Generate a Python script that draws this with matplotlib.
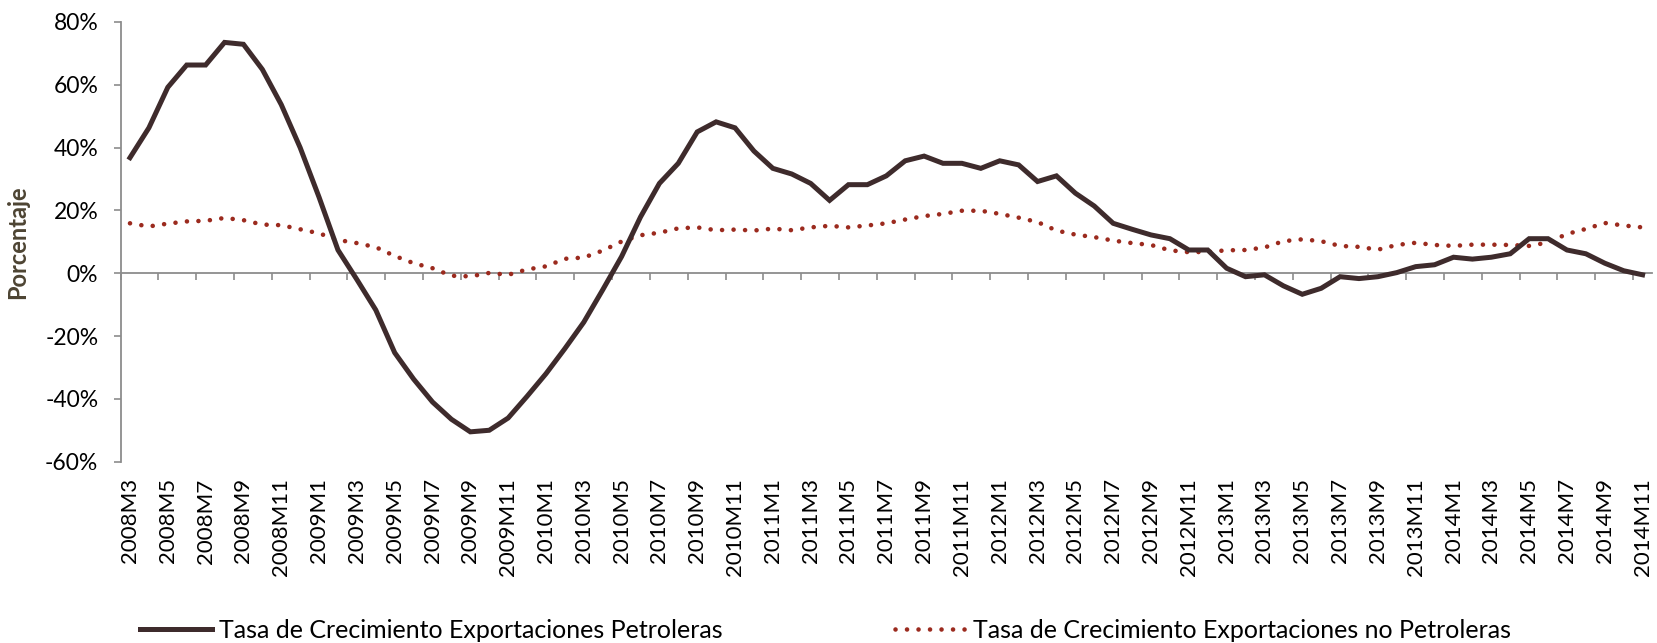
import matplotlib
matplotlib.use("Agg")
import matplotlib.pyplot as plt
from matplotlib.lines import Line2D

plt.rcParams['font.family'] = ['Lato', 'DejaVu Sans']

# periodos mensuales 2008M3 .. 2014M11
periodos = [f"{y}M{m}" for y in range(2008, 2015) for m in range(1, 13)
            if not (y == 2008 and m < 3) and not (y == 2014 and m > 11)]

petroleras = [36.8, 46.3, 59.2, 66.3, 66.3, 73.5, 72.9, 64.9, 53.7, 40.0, 24.2, 7.4,
              -2.0, -11.7, -25.3, -33.7, -41.0, -46.5, -50.5, -50.0, -46.1, -39.2, -32.0,
              -24.0, -15.6, -5.3, 5.3, 17.9, 28.6, 35.0, 45.0, 48.2, 46.3, 38.9, 33.4,
              31.6, 28.6, 23.2, 28.2, 28.2, 31.0, 35.8, 37.3, 35.0, 35.0, 33.4, 35.8,
              34.5, 29.2, 31.0, 25.5, 21.4,
              15.9, 14.0, 12.2, 11.0, 7.4, 7.4, 1.6, -1.1, -0.5, -4.0, -6.7, -4.8, -1.1,
              -1.7, -1.1, 0.2, 2.1, 2.7, 5.1, 4.5, 5.1, 6.2, 11.0, 11.0, 7.4, 6.2, 3.2,
              0.8, -0.5]

no_petroleras = [15.9, 14.9, 15.8, 16.5, 16.7, 17.6, 16.9, 15.5, 15.3, 14.0, 12.7, 10.6,
                 9.6, 8.3, 5.5, 3.2, 1.6, -0.8, -1.0, 0.1, -0.5, 1.2, 2.2,
                 4.6, 5.0, 7.2, 10.1, 12.1, 12.9, 14.3, 14.6, 13.7, 13.9, 13.6, 14.2,
                 13.7, 14.6, 15.1, 14.6, 15.2, 15.9, 17.1, 18.2, 18.9, 19.9, 19.9, 18.9,
                 17.7, 16.3, 13.6, 12.3, 11.5,
                 10.4, 9.6, 9.0, 7.3, 6.7, 6.8, 7.3, 7.4, 8.2, 10.2, 10.8, 10.2, 8.7,
                 8.4, 7.5, 9.0, 9.7, 9.0, 8.7, 9.1, 9.1, 9.0, 8.7, 9.8, 12.5, 14.1, 16.0,
                 15.2, 14.6]

nombres = ["Tasa de Crecimiento Exportaciones Petroleras",
           "Tasa de Crecimiento Exportaciones no Petroleras"]

c_pet = "#3e2b2c"
c_nopet = "#9b2a1e"
c_eje = "#8c8c8c"
dots = (0, (0.01, 2.5))

fig = plt.figure(figsize=(16.58, 6.43), dpi=100)
ax = fig.add_axes([0.0727, 0.282, 0.9237, 0.6838])

x = list(range(len(periodos)))
ax.plot(x, petroleras, color=c_pet, lw=3.6, solid_joinstyle='miter', zorder=3)
ax.plot(x, no_petroleras, color=c_nopet, lw=3.3, linestyle=dots,
        dash_capstyle='round', zorder=2)

ymin, ymax = -60, 80
ax.set_ylim(ymin, ymax)
ax.set_xlim(-0.5, len(periodos) - 0.5)
ax.set_yticks(range(-60, 81, 20))
ax.set_yticklabels([f"{v}%" for v in range(-60, 81, 20)], fontsize=16.5)
ax.tick_params(axis='y', length=5, width=1.2, color=c_eje, pad=11)

# etiquetas de categoria abajo
ax.set_xticks(x[::2])
ax.set_xticklabels(periodos[::2], rotation=90, fontsize=16, va='top')
ax.tick_params(axis='x', length=0, pad=12)

for s in ['top', 'right', 'bottom']:
    ax.spines[s].set_visible(False)
ax.spines['left'].set_color(c_eje)
ax.spines['left'].set_linewidth(1.3)

# eje de categorias en el cero
cero = ax.secondary_xaxis((0 - ymin) / (ymax - ymin))
cero.set_xticks([v - 0.5 for v in x[::2]])
cero.set_xticklabels([])
cero.tick_params(axis='x', direction='out', length=5, width=1.2, color=c_eje)
cero.spines['bottom'].set_color(c_eje)
cero.spines['bottom'].set_linewidth(1.3)

ax.set_ylabel("Porcentaje", fontsize=17, fontweight='bold', color="#4d4433", labelpad=8)
ax.yaxis.set_label_coords(-0.0595, 0.5)

handles = [Line2D([], [], color=c_pet, lw=3.6),
           Line2D([], [], color=c_nopet, lw=3.3, linestyle=dots, dash_capstyle='round')]
fig.legend(handles, nombres, loc='center', bbox_to_anchor=(0.498, 0.02), ncol=2,
           frameon=False, fontsize=18, handlelength=2.9, handletextpad=0.25,
           columnspacing=6.9)

fig.savefig("out.png", dpi=100)
